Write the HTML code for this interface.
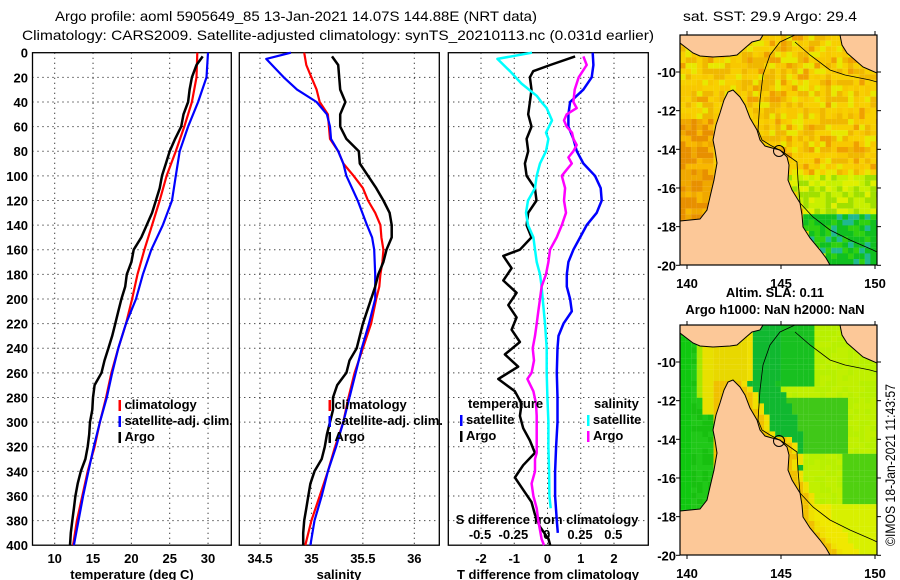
<!DOCTYPE html>
<html><head><meta charset="utf-8"><style>
html,body{margin:0;padding:0;background:#fff;}
svg{display:block;font-family:"Liberation Sans",sans-serif;}
.t{font-size:13px;font-weight:bold;fill:#000;}
.ti{font-size:14px;fill:#000;}
</style></head><body>
<svg id="c" width="900" height="580" viewBox="0 0 900 580" xmlns="http://www.w3.org/2000/svg">
<text class="ti" x="296" y="21" text-anchor="middle" textLength="482" lengthAdjust="spacingAndGlyphs">Argo profile: aoml 5905649_85 13-Jan-2021 14.07S 144.88E (NRT data)</text>
<text class="ti" x="338" y="40" text-anchor="middle" textLength="632" lengthAdjust="spacingAndGlyphs">Climatology: CARS2009. Satellite-adjusted climatology: synTS_20210113.nc (0.031d earlier)</text>
<g id="panels"></g>
<g id="maps"></g>
<text class="ti" x="770" y="21" text-anchor="middle" textLength="174" lengthAdjust="spacingAndGlyphs">sat. SST: 29.9 Argo: 29.4</text>
<text class="t" x="775" y="297" text-anchor="middle">Altim. SLA: 0.11</text>
<text class="t" x="775" y="314" text-anchor="middle">Argo h1000: NaN h2000: NaN</text>
<text class="ti" x="0" y="0" transform="translate(895,465) rotate(-90)" text-anchor="middle" textLength="162" lengthAdjust="spacingAndGlyphs">©IMOS 18-Jan-2021 11:43:57</text>
</svg>
<script>
// ---- data (depth in m) ----
const tempClimDepth=[0,20,40,60,80,100,120,140,160,180,200,220,240,260,280,300,320,340,360,380,400];
const tempClim=[28.6,28.5,27.9,26.9,25.8,24.6,23.7,22.7,21.7,20.8,20.1,19.3,18.3,17.4,16.7,15.9,15.2,14.3,13.6,12.9,12.4];
const tempSat=[30.0,29.8,28.7,27.4,26.3,25.8,25.3,24.1,22.6,21.5,20.6,19.3,18.3,17.5,16.8,15.9,15.1,14.4,13.7,13.1,12.5];
const argoDepth=[3,10,20,30,40,50,60,70,80,90,100,110,120,130,140,150,160,170,180,190,200,210,220,230,240,250,260,270,280,290,300,310,320,330,340,350,360,370,380,390,400];
const tempArgo=[29.3,28.5,27.9,27.6,27.4,26.8,26.5,25.7,25.0,24.5,24.0,23.7,23.2,22.7,22.0,21.3,20.3,20.0,19.4,19.2,18.7,18.3,17.9,17.5,17.0,16.5,16.1,15.2,15.0,14.9,14.6,14.5,14.3,14.0,13.4,13.0,12.7,12.5,12.3,12.1,12.0];
const salClimDepth=[0,10,20,30,40,50,60,70,80,90,100,110,120,130,140,150,160,170,180,190,200,220,240,260,280,300,320,340,360,380,400];
const salClim=[34.93,34.95,35.0,35.05,35.08,35.16,35.17,35.18,35.26,35.31,35.41,35.50,35.55,35.62,35.67,35.68,35.70,35.69,35.67,35.66,35.63,35.58,35.50,35.42,35.36,35.31,35.23,35.16,35.08,35.0,34.94];
const salSatDepth=[0,5,20,30,40,50,60,70,80,90,100,120,140,150,160,180,200,220,240,260,280,300,320,340,360,380,400];
const salSat=[34.80,34.56,34.73,34.86,35.05,35.15,35.18,35.19,35.26,35.31,35.34,35.45,35.54,35.59,35.61,35.62,35.62,35.56,35.49,35.43,35.37,35.31,35.24,35.16,35.10,35.03,34.99];
const salArgo=[35.20,35.26,35.27,35.28,35.33,35.28,35.28,35.34,35.46,35.47,35.55,35.63,35.70,35.76,35.78,35.78,35.73,35.70,35.65,35.62,35.58,35.54,35.50,35.47,35.44,35.37,35.34,35.25,35.21,35.21,35.18,35.15,35.13,35.10,35.03,34.99,34.97,34.95,34.93,34.92,34.92];
const tdArgoDepth=[3,10,15,20,30,40,50,60,70,80,90,100,110,120,130,140,150,160,165,175,185,195,205,215,225,235,245,255,265,275,285,295,305,315,325,335,345,355,365,375,385,395,400];
const tdArgo=[0.83,0.08,-0.43,-0.53,-0.48,-0.53,-0.58,-0.48,-0.63,-0.58,-0.68,-0.63,-0.38,-0.33,-0.58,-0.63,-0.48,-0.83,-1.33,-1.08,-1.33,-0.93,-1.18,-0.93,-1.08,-0.83,-1.28,-0.88,-1.48,-0.98,-0.78,-0.83,-0.73,-0.53,-0.38,-0.73,-0.98,-0.73,-0.48,-0.38,-0.23,0.03,0.08];
const tdSatDepth=[0,10,20,30,40,50,60,70,80,90,100,110,120,130,140,150,160,170,180,190,200,210,220,230,240,260,280,300,320,340,360,380,390];
const tdSat=[1.36,1.38,1.33,1.08,0.68,0.63,0.63,0.78,0.88,1.08,1.43,1.60,1.63,1.48,1.18,0.98,0.78,0.63,0.58,0.58,0.68,0.73,0.48,0.33,0.30,0.28,0.30,0.30,0.26,0.23,0.23,0.28,0.31];
const sdSatDepth=[0,5,15,25,35,40,45,55,65,70,80,90,100,110,120,130,140,150,160,170,180,190,200,220,240,260,280,300,320,340,360,370];
const sdSat=[-0.11,-0.37,-0.275,-0.19,-0.075,-0.04,0,0.04,-0.005,0.013,-0.005,-0.05,-0.075,-0.088,-0.14,-0.155,-0.14,-0.10,-0.088,-0.075,-0.05,-0.038,-0.03,-0.013,0,0,0.005,0.013,0.013,0.018,0.02,0.03];
const sdArgoDepth=[3,10,20,30,40,45,50,55,60,65,70,75,80,85,90,95,100,110,120,130,140,150,160,170,180,190,200,210,220,230,240,250,260,265,275,285,295,305,315,325,330,340,350,360,370,380,395,400];
const sdArgo=[0.275,0.30,0.24,0.21,0.20,0.225,0.15,0.13,0.15,0.19,0.20,0.225,0.20,0.163,0.188,0.15,0.113,0.138,0.13,0.145,0.113,0.075,0.025,0.013,-0.005,-0.038,-0.05,-0.063,-0.075,-0.088,-0.105,-0.095,-0.113,-0.145,-0.10,-0.08,-0.075,-0.075,-0.075,-0.075,-0.088,-0.088,-0.113,-0.10,-0.075,-0.063,-0.038,-0.02];
const depthTicks=[0,20,40,60,80,100,120,140,160,180,200,220,240,260,280,300,320,340,360,380,400];
const tempTicks=[10,15,20,25,30];
const salTicks=[34.5,35,35.5,36];
const salTickLabels=["34.5","35","35.5","36"];
const tdTicks=[-2,-1,0,1,2];
const sdTicks=[-0.5,-0.25,0,0.25,0.5];
const sdTickLabels=["-0.5","-0.25","0","0.25","0.5"];

const NS="http://www.w3.org/2000/svg";
const P=document.getElementById('panels');
function mk(tag,attrs,parent){const e=document.createElementNS(NS,tag);for(const k in attrs)e.setAttribute(k,attrs[k]);(parent||P).appendChild(e);return e;}
const Y0=52.7,Y1=545.2;
const yD=d=>Y0+d*(Y1-Y0)/400;
const xT=v=>54.7+(v-10)*7.667;
const xS=v=>260+(v-34.5)*102.87;
const xTD=v=>547.5+v*33.25;
const xSD=v=>546.7+v*133.3;
const panels=[[32.5,231.3,'temperature-panel'],[239.3,439.3,'salinity-panel'],[448.3,648.3,'difference-panel']];

function grid(x0,x1,xs){
  depthTicks.forEach(d=>{if(d>0&&d<400){const l=mk('line',{x1:x0,x2:x1,y1:yD(d),y2:yD(d),stroke:'#000','stroke-width':1,'stroke-dasharray':'1,4'});

}});
  xs.forEach(x=>{const l=mk('line',{x1:x,x2:x,y1:Y0,y2:Y1,stroke:'#000','stroke-width':1,'stroke-dasharray':'1,4'});

});
}
grid(32.5,231.3,tempTicks.map(xT));
grid(239.3,439.3,salTicks.map(xS));
grid(448.3,648.3,tdTicks.map(xTD));
panels.forEach(p=>{const r=mk('rect',{x:p[0],y:Y0,width:p[1]-p[0],height:Y1-Y0,fill:'none',stroke:'#000','stroke-width':1.3});

});

depthTicks.forEach(d=>{const t=mk('text',{x:28,y:yD(d)+5,'text-anchor':'end',class:'t'});t.textContent=d;

});
tempTicks.forEach(v=>{const t=mk('text',{x:xT(v),y:563,'text-anchor':'middle',class:'t'});t.textContent=v;

});
salTicks.forEach((v,i)=>{const t=mk('text',{x:xS(v),y:563,'text-anchor':'middle',class:'t'});t.textContent=salTickLabels[i];

});
tdTicks.forEach(v=>{const t=mk('text',{x:xTD(v),y:563,'text-anchor':'middle',class:'t'});t.textContent=v;

});
sdTicks.forEach((v,i)=>{const t=mk('text',{x:xSD(v),y:539,'text-anchor':'middle',class:'t'});t.textContent=sdTickLabels[i];

});
[[132,'temperature (deg C)','temperature-axis-title'],[339,'salinity','salinity-axis-title'],[548,'T difference from climatology','t-diff-axis-title']].forEach(a=>{
const t=mk('text',{x:a[0],y:579,'text-anchor':'middle',class:'t'});t.textContent=a[1];

});
{const t=mk('text',{x:547,y:524,'text-anchor':'middle',class:'t'});t.textContent='S difference from climatology';

}

function line(depths,vals,xf,color,name,w){
  const pts=vals.map((v,i)=>xf(v).toFixed(1)+','+yD(depths[i]).toFixed(1)).join(' ');
  const l=mk('polyline',{points:pts,fill:'none',stroke:color,'stroke-width':w||2.2,'stroke-linejoin':'round'});
  
  
}
line(tempClimDepth,tempClim,xT,'#ff0000','temperature-climatology-line');
line(tempClimDepth,tempSat,xT,'#0000ff','temperature-satellite-line');
line(argoDepth,tempArgo,xT,'#000','temperature-argo-line',2.5);
line(salClimDepth,salClim,xS,'#ff0000','salinity-climatology-line');
line(salSatDepth,salSat,xS,'#0000ff','salinity-satellite-line');
line(argoDepth,salArgo,xS,'#000','salinity-argo-line',2.5);
line(tdArgoDepth,tdArgo,xTD,'#000','t-diff-argo-line',2.5);
line(tdSatDepth,tdSat,xTD,'#0000ff','t-diff-satellite-line',2.5);
line(sdSatDepth,sdSat,xSD,'#00ffff','s-diff-satellite-line',2.5);
line(sdArgoDepth,sdArgo,xSD,'#ff00ff','s-diff-argo-line',2.5);

function legend(x,y,color,label,name){
  const m=mk('rect',{x:x,y:y-9,width:2.5,height:11,fill:color});
  
  
  const t=mk('text',{x:x+6,y:y,class:'t'});t.textContent=label;
  
  
}
legend(118.5,409,'#ff0000','climatology','legend-temp-climatology');
legend(118.5,425,'#0000ff','satellite-adj. clim.','legend-temp-satellite');
legend(118.5,441,'#000','Argo','legend-temp-argo');
legend(328.5,409,'#ff0000','climatology','legend-sal-climatology');
legend(328.5,425,'#0000ff','satellite-adj. clim.','legend-sal-satellite');
legend(328.5,441,'#000','Argo','legend-sal-argo');
{const t=mk('text',{x:468,y:408,class:'t'});t.textContent='temperature';}
{const t=mk('text',{x:594,y:408,class:'t'});t.textContent='salinity';}
legend(460,424,'#0000ff','satellite','legend-tdiff-satellite');
legend(460,440,'#000','Argo','legend-tdiff-argo');
legend(587,424,'#00ffff','satellite','legend-sdiff-satellite');
legend(587,440,'#ff00ff','Argo','legend-sdiff-argo');

// ---- maps ----
const M=document.getElementById('maps');
const MX0=680,MX1=877,MT=35,MB=265;
const lonX=l=>687+(l-140)*18.8;
const latY=l=>72+(-10-l)*19.33;
const landAus=[[680,221],[700,219],[707,210],[710,197],[714,180],[717,163],[715,150],[713,140],[716,125],[720,113],[724,100],[728,92],[733,90],[740,97],[745,105],[750,118],[757,130],[760,140],[765,146],[772,148],[780,150],[787,157],[789,165],[788,180],[792,190],[800,203],[802,215],[803,227],[810,238],[820,250],[826,258],[830,265],[680,265]];
const landPNG=[[680,35],[680,43],[693,53],[700,56],[713,57],[730,56],[737,55],[745,48],[752,42],[760,40],[763,35]];
const landPNG2=[[840,35],[842,45],[847,53],[855,60],[863,67],[870,70],[877,73],[877,35]];
const iso1=[[795,35],[780,42],[770,55],[763,75],[760,100],[758,130],[762,140],[770,145],[783,152],[797,162],[798,180],[800,203],[813,217],[830,230],[850,240],[873,250],[877,252]];
const iso2=[[795,42],[810,55],[830,70],[845,75],[870,80],[877,82]];
const eastCoast=landAus.slice(12,33);
function coastX(y){if(y<92)return 742;for(let k=0;k<eastCoast.length-1;k++){const a=eastCoast[k],b=eastCoast[k+1];if(y>=a[1]&&y<=b[1]){return a[0]+(b[0]-a[0])*(y-a[1])/((b[1]-a[1])||1);}}return 830;}
function hash(i,j){let h=(i*73856093)^(j*19349663);h=(h^(h>>>13))*1274126177;return ((h>>>0)%1000)/1000;}
function sstCol(x,y,r){
  const d=x-coastX(y);
  if(y>212&&d>0) return r<0.5?'#10c020':(r<0.8?'#30d010':'#20b890');
  if(y>175&&d>0) return r<0.4?'#a0e000':(r<0.7?'#c8f000':'#e0f000');
  if(x<714&&y>120) return r<0.4?'#e89000':(r<0.75?'#f0a800':'#f8b800');
  if(r<0.3) return '#f8d000'; if(r<0.55) return '#f0b800'; if(r<0.75) return '#f8c800'; if(r<0.9) return '#e8e800'; return '#f0a000';
}
function slaCol(x,y,r){
  if(x<716){ if(y<125&&x>705) return '#e8e000'; if(y<110&&x>695) return '#a8e800'; return x<690?'#10c810':(r<0.5?'#20c818':'#18c010'); }
  const d=x-coastX(y);
  if(y<92&&x<745) return '#e8d800';
  if(d<6) return '#f0c000';
  if(d<12) return '#f0e000';
  if(y>215) return d<30?'#f0e800':'#d8f000';
  if(y<190&&x<805&&d<40) return '#10b830';
  if(y>110&&y<165&&x<850) return '#40c818';
  if(y<95&&x<815) return '#18c020';
  if(y>165&&y<215&&x>840) return '#50d010';
  return r<0.5?'#b8f000':'#c0f000';
}
function drawMap(off,colFn,name){
  const g=mk('g',{transform:'translate(0,'+off+')'},M);
  
  
  const cid='clip'+off;
  const cp=mk('clipPath',{id:cid},g);mk('rect',{x:MX0,y:MT,width:MX1-MX0,height:MB-MT},cp);
  const inner=mk('g',{'clip-path':'url(#'+cid+')'},g);
  for(let i=0;i<36;i++)for(let j=0;j<42;j++){const x=MX0+i*5.6,y=MT+j*5.6;
    mk('rect',{x:x,y:y,width:5.7,height:5.7,fill:colFn(x+2.8,y+2.8,hash(i,j+off))},inner);}
  [landAus,landPNG,landPNG2].forEach(L=>mk('polygon',{points:L.map(p=>p.join(',')).join(' '),fill:'#fcc898',stroke:'#000','stroke-width':1},inner));
  [iso1,iso2].forEach(L=>mk('polyline',{points:L.map(p=>p.join(',')).join(' '),fill:'none',stroke:'#000','stroke-width':0.8},inner));
  const c=mk('circle',{cx:779,cy:151,r:5.5,fill:'none',stroke:'#000','stroke-width':1},inner);
  
  
  mk('rect',{x:MX0,y:MT,width:MX1-MX0,height:MB-MT,fill:'none',stroke:'#000','stroke-width':1.2},g);
  [140,145,150].forEach(l=>{mk('line',{x1:lonX(l),x2:lonX(l),y1:MT-4,y2:MT,stroke:'#000'},g);mk('line',{x1:lonX(l),x2:lonX(l),y1:MB,y2:MB+4,stroke:'#000'},g);
    const t=mk('text',{x:lonX(l),y:MB+23,'text-anchor':'middle',class:'t'},g);t.textContent=l;
    
    });
  [-10,-12,-14,-16,-18,-20].forEach(l=>{mk('line',{x1:MX0-4,x2:MX0,y1:latY(l),y2:latY(l),stroke:'#000'},g);mk('line',{x1:MX1,x2:MX1+4,y1:latY(l),y2:latY(l),stroke:'#000'},g);
    const t=mk('text',{x:676,y:latY(l)+5,'text-anchor':'end',class:'t'},g);t.textContent=l;
    
    });
}
drawMap(0,sstCol,'sst-map');
drawMap(290,slaCol,'sla-map');
</script>
</body></html>
